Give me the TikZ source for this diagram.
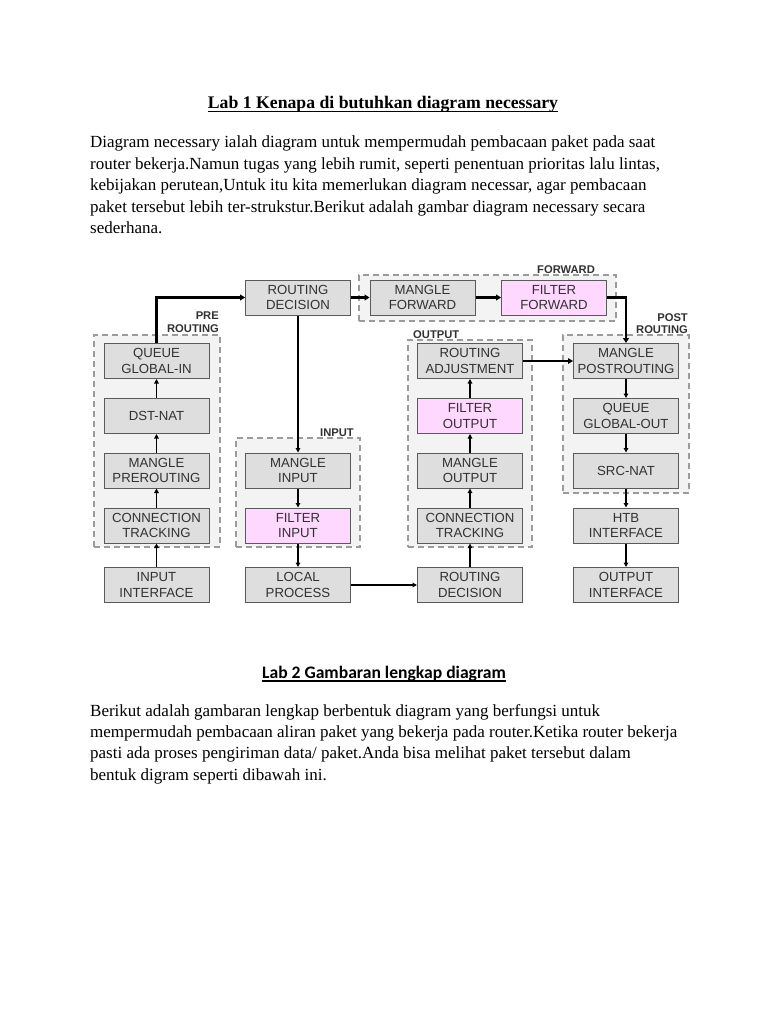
\documentclass[tikz,border=0pt]{standalone}
\usepackage{fontspec}
\setmainfont{Liberation Serif}
\newfontfamily\boxfont{Liberation Sans}
\newfontfamily\calib{Carlito}
\usetikzlibrary{arrows.meta}
\definecolor{boxgray}{RGB}{222,222,222}
\definecolor{boxedge}{RGB}{90,90,90}
\definecolor{pinkfill}{RGB}{255,216,255}
\definecolor{contfill}{RGB}{243,243,243}
\definecolor{contedge}{RGB}{155,155,155}
\definecolor{txtgray}{RGB}{50,50,50}
\begin{document}
\begin{tikzpicture}[x=1pt,y=-1pt,
  stage/.style={draw=boxedge,fill=boxgray,line width=1pt,minimum width=105pt,minimum height=35pt,inner sep=0pt,align=center,
    font=\boxfont\fontsize{13.2}{15.5}\selectfont,text=txtgray},
  pinkstage/.style={stage,fill=pinkfill},
  cont/.style={draw=contedge,fill=contfill,dashed,dash pattern=on 6pt off 4pt,line width=1.4pt,inner sep=0pt},
  grp/.style={font=\boxfont\bfseries\fontsize{11.2}{13.5}\selectfont,text=txtgray,inner sep=0pt,align=right},
  body/.style={font=\fontsize{17}{20}\selectfont,anchor=base west,inner sep=0pt},
  thin/.style={line width=1.6pt,-{Triangle[length=4.5pt,width=4.5pt]}},
  thick/.style={line width=2.8pt,-{Triangle[length=5pt,width=6pt]}},
  mid/.style={line width=2.2pt,-{Triangle[length=5pt,width=5.5pt]}}]
\useasboundingbox (0,0) rectangle (768,1024);
\fill[white] (0,0) rectangle (768,1024);

% --- Lab 1 text ---
\node[font=\bfseries\fontsize{17.7}{20}\selectfont,anchor=base,inner sep=0pt] (t1) at (383,109) {Lab 1 Kenapa di butuhkan diagram necessary};
\draw[line width=1.3pt] ([yshift=-2.5pt]t1.base west) -- ([yshift=-2.5pt]t1.base east);
\node[body] (p1) at (90,148) {Diagram necessary ialah diagram untuk mempermudah pembacaan paket pada saat};
\node[body] (p2) at (90,169.4) {router bekerja.Namun tugas yang lebih rumit, seperti penentuan prioritas lalu lintas,};
\node[body] (p3) at (90,190.8) {kebijakan perutean,Untuk itu kita memerlukan diagram necessar, agar pembacaan};
\node[body] (p4) at (90,212.2) {paket tersebut lebih ter-strukstur.Berikut adalah gambar diagram necessary secara};
\node[body] (p5) at (90,233.6) {sederhana.};

% --- containers ---
\node[cont,minimum width=126pt,minimum height=212pt] (pre) at (157,441) {};
\node[cont,minimum width=124pt,minimum height=109pt] (inp) at (298,492.5) {};
\node[cont,minimum width=257pt,minimum height=46pt] (fwd) at (487.5,298) {};
\node[cont,minimum width=124pt,minimum height=207pt] (outc) at (470,443.5) {};
\node[cont,minimum width=126pt,minimum height=158pt] (post) at (626,414) {};

% --- group labels ---
\node[grp,anchor=base east] (lpre1) at (219,319.5) {PRE};
\node[grp,anchor=base east] (lpre2) at (219,332.5) {ROUTING};
\node[grp,anchor=base east] (lpost1) at (688,321) {POST};
\node[grp,anchor=base east] (lpost2) at (688,333.5) {ROUTING};
\node[grp,anchor=base west] (lout) at (413,338) {OUTPUT};
\node[grp,anchor=base west] (linp) at (320,436) {INPUT};
\node[grp,anchor=base west] (lfwd) at (537,273.5) {FORWARD};

% --- stages ---
\node[stage] (rd1) at (298,297.5) {ROUTING\\DECISION};
\node[stage] (mf) at (422.5,297.5) {MANGLE\\FORWARD};
\node[pinkstage] (ff) at (554,297.5) {FILTER\\FORWARD};

\node[stage] (qgi) at (156.5,361) {QUEUE\\GLOBAL-IN};
\node[stage] (dst) at (156.5,416) {DST-NAT};
\node[stage] (mpre) at (156.5,470.5) {MANGLE\\PREROUTING};
\node[stage] (ct1) at (156.5,525.5) {CONNECTION\\TRACKING};
\node[stage] (ii) at (156.5,585) {INPUT\\INTERFACE};

\node[stage] (mi) at (298,470.5) {MANGLE\\INPUT};
\node[pinkstage] (fi) at (298,525.5) {FILTER\\INPUT};
\node[stage] (lp) at (298,585) {LOCAL\\PROCESS};

\node[stage] (ra) at (470,361) {ROUTING\\ADJUSTMENT};
\node[pinkstage] (fo) at (470,416) {FILTER\\OUTPUT};
\node[stage] (mo) at (470,470.5) {MANGLE\\OUTPUT};
\node[stage] (ct2) at (470,525.5) {CONNECTION\\TRACKING};
\node[stage] (rd2) at (470,585) {ROUTING\\DECISION};

\node[stage] (mpost) at (626,361) {MANGLE\\POSTROUTING};
\node[stage] (qgo) at (626,416) {QUEUE\\GLOBAL-OUT};
\node[stage] (snat) at (626,470.5) {SRC-NAT};
\node[stage] (htb) at (626,525.5) {HTB\\INTERFACE};
\node[stage] (oi) at (626,585) {OUTPUT\\INTERFACE};

% --- connectors ---
\draw[thick] (qgi.north) |- (rd1.west);
\draw[thick] (rd1) -- (mf);
\draw[thick] (mf) -- (ff);
\draw[thick] (ff.east) -| (mpost.north);
\draw[thin] (rd1) -- (mi);
\draw[thin] (mi) -- (fi);
\draw[thin] (fi) -- (lp);
\draw[thin] (lp) -- (rd2);
\draw[thin] (rd2) -- (ct2);
\draw[thin] (ct2) -- (mo);
\draw[thin] (mo) -- (fo);
\draw[thin] (fo) -- (ra);
\draw[mid] (ra) -- (mpost);
\draw[thin] (mpost) -- (qgo);
\draw[thin] (qgo) -- (snat);
\draw[thin] (snat) -- (htb);
\draw[thin] (htb) -- (oi);
\draw[thin] (ii) -- (ct1);
\draw[thin] (ct1) -- (mpre);
\draw[thin] (mpre) -- (dst);
\draw[thin] (dst) -- (qgi);

% --- Lab 2 text ---
\node[font=\calib\bfseries\fontsize{17.6}{20}\selectfont,anchor=base,inner sep=0pt] (t2) at (384,678) {Lab 2 Gambaran lengkap diagram};
\draw[line width=1.3pt] ([yshift=-3pt]t2.base west) -- ([yshift=-3pt]t2.base east);
\node[body] (q1) at (90,716) {Berikut adalah gambaran lengkap berbentuk diagram yang berfungsi untuk};
\node[body] (q2) at (90,737.4) {mempermudah pembacaan aliran paket yang bekerja pada router.Ketika router bekerja};
\node[body] (q3) at (90,758.8) {pasti ada proses pengiriman data/ paket.Anda bisa melihat paket tersebut dalam};
\node[body] (q4) at (90,780.2) {bentuk digram seperti dibawah ini.};
\end{tikzpicture}
\end{document}
